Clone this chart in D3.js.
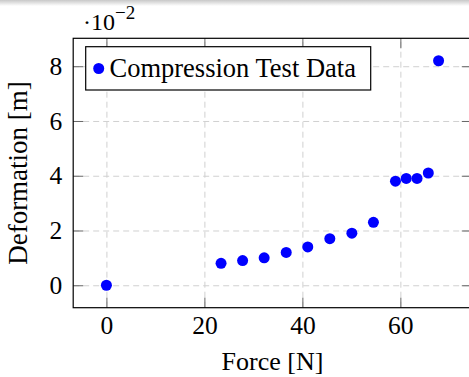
<!DOCTYPE html>
<html>
<head>
<meta charset="utf-8">
<script src="https://cdn.jsdelivr.net/npm/d3@7"></script>
<style>
  html, body { margin: 0; padding: 0; background: #fff; }
  svg { display: block; }
</style>
</head>
<body>
<svg id="chart" width="469" height="377"></svg>
<script>
// Data: force in N, deformation in units of 10^-2 m
const force = [0, 23.4, 27.8, 32.2, 36.7, 41.1, 45.6, 50.1, 54.5, 59.0, 61.2, 63.4, 65.7, 67.8];
const deformation = [0, 0.8, 0.9, 1.0, 1.2, 1.4, 1.7, 1.9, 2.3, 3.8, 3.9, 3.9, 4.1, 8.2];
const xTicks = [0, 20, 40, 60];
const yTicks = [0, 2, 4, 6, 8];
const seriesName = "Compression Test Data";
const xLabel = "Force [N]";
const yLabel = "Deformation [m]";

const W = 469, H = 377;
const pL = 73.2, pR = 471.8, pT = 38.3, pB = 307.7;
const FONT = "'Liberation Serif', 'Times New Roman', serif";

const svg = d3.select("#chart");

// top screenshot band
const defs = svg.append("defs");
const lg = defs.append("linearGradient").attr("id", "band").attr("x1", 0).attr("y1", 0).attr("x2", 0).attr("y2", 1);
lg.append("stop").attr("offset", "0%").attr("stop-color", "#c8c8c8");
lg.append("stop").attr("offset", "100%").attr("stop-color", "#ffffff");
svg.append("rect").attr("x", 0).attr("y", 0).attr("width", W).attr("height", 6).attr("fill", "url(#band)");

// enlarge limits by 10% like pgfplots
const xMin = d3.min(force), xMax = d3.max(force);
const yMin = d3.min(deformation), yMax = d3.max(deformation);
const xPad = (xMax - xMin) * 0.1, yPad = (yMax - yMin) * 0.1;

const x = d3.scaleLinear().domain([xMin - xPad, xMax + xPad]).range([pL, pR]);
const y = d3.scaleLinear().domain([yMin - yPad, yMax + yPad]).range([pB, pT]);

// grid
const grid = svg.append("g");
grid.append("g").attr("transform", `translate(0,${pB})`)
  .call(d3.axisBottom(x).tickValues(xTicks).tickSize(-(pB - pT)).tickFormat(""))
  .call(g => g.select(".domain").remove())
  .call(g => g.selectAll("line").attr("stroke", "#d0d0d0").attr("stroke-dasharray", "6,4"));
grid.append("g").attr("transform", `translate(${pL},0)`)
  .call(d3.axisLeft(y).tickValues(yTicks).tickSize(-(pR - pL)).tickFormat(""))
  .call(g => g.select(".domain").remove())
  .call(g => g.selectAll("line").attr("stroke", "#d0d0d0").attr("stroke-dasharray", "6,4"));

// axes with inward ticks
const tickLen = 10;
function styleAxis(g) {
  g.select(".domain").remove();
  g.selectAll(".tick line").attr("stroke", "#666").attr("stroke-width", 1);
  g.selectAll(".tick text").attr("font-family", FONT).attr("font-size", 25.5).attr("fill", "#000");
}
svg.append("g").attr("transform", `translate(0,${pB})`)
  .call(d3.axisBottom(x).tickValues(xTicks).tickSizeInner(-tickLen).tickSizeOuter(0).tickPadding(8).tickFormat(d3.format("d")))
  .call(styleAxis);
svg.append("g").attr("transform", `translate(0,${pT})`)
  .call(d3.axisTop(x).tickValues(xTicks).tickSizeInner(-tickLen).tickSizeOuter(0).tickFormat(""))
  .call(styleAxis);
svg.append("g").attr("transform", `translate(${pL},0)`)
  .call(d3.axisLeft(y).tickValues(yTicks).tickSizeInner(-tickLen).tickSizeOuter(0).tickPadding(11).tickFormat(d3.format("d")))
  .call(styleAxis);
svg.append("g").attr("transform", `translate(${pR},0)`)
  .call(d3.axisRight(y).tickValues(yTicks).tickSizeInner(-tickLen).tickSizeOuter(0).tickFormat(""))
  .call(styleAxis);

// frame
svg.append("rect").attr("x", pL).attr("y", pT).attr("width", pR - pL).attr("height", pB - pT)
  .attr("fill", "none").attr("stroke", "#000").attr("stroke-width", 1.2);

// points
svg.append("g").selectAll("circle").data(force.map((f, i) => [f, deformation[i]])).join("circle")
  .attr("cx", d => x(d[0])).attr("cy", d => y(d[1])).attr("r", 5.5).attr("fill", "#0000ff");

// scale label ·10^-2
const sc = svg.append("text").attr("x", 83).attr("y", 30).attr("font-family", FONT).attr("font-size", 24).attr("fill", "#000");
sc.append("tspan").text("·10");
sc.append("tspan").attr("dy", -11).attr("font-size", 19).text("−2");

// legend
const lgG = svg.append("g");
lgG.append("rect").attr("x", 85.7).attr("y", 46.7).attr("width", 285).attr("height", 43.3)
  .attr("fill", "#fff").attr("stroke", "#000").attr("stroke-width", 1.2);
lgG.append("circle").attr("cx", 98.7).attr("cy", 68.5).attr("r", 5.5).attr("fill", "#0000ff");
lgG.append("text").attr("x", 109.5).attr("y", 76.5).attr("font-family", FONT).attr("font-size", 26.5)
  .attr("fill", "#000").text(seriesName);

// axis labels
svg.append("text").attr("x", (pL + pR) / 2).attr("y", 370).attr("text-anchor", "middle")
  .attr("font-family", FONT).attr("font-size", 26).attr("fill", "#000").text(xLabel);
svg.append("text").attr("transform", `translate(27,${(pT + pB) / 2}) rotate(-90)`).attr("text-anchor", "middle")
  .attr("font-family", FONT).attr("font-size", 27).attr("fill", "#000").text(yLabel);
</script>
</body>
</html>
